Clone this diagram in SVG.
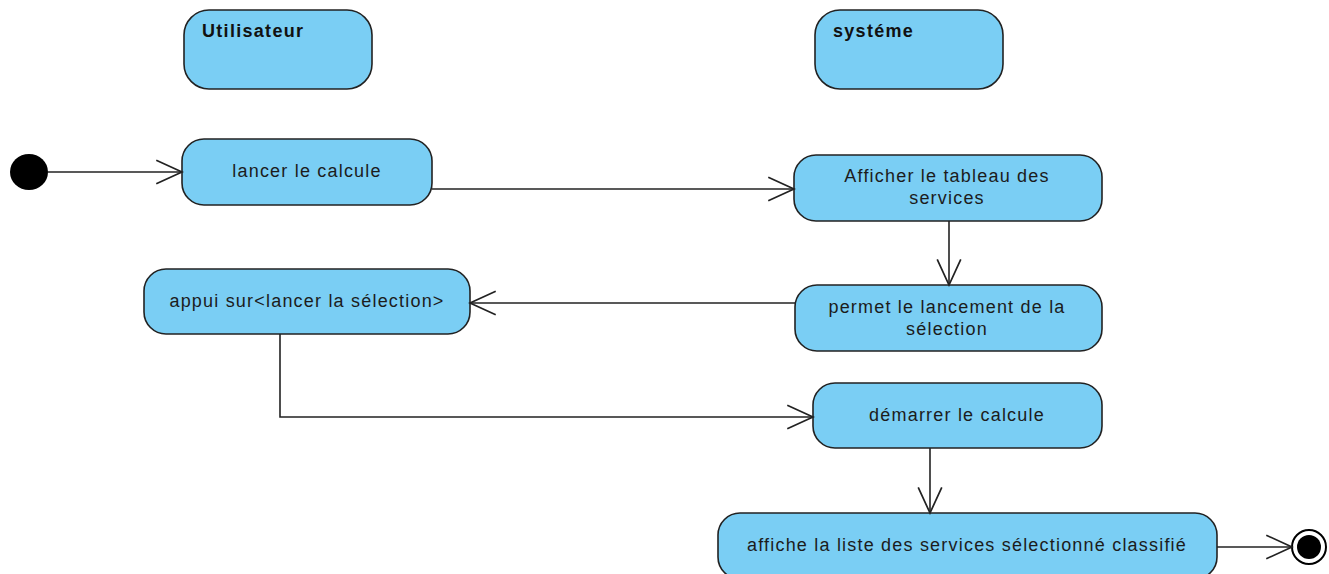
<svg xmlns="http://www.w3.org/2000/svg" width="1329" height="574" viewBox="0 0 1329 574">
  <defs>
    <style>
      .node { fill: #7acef4; stroke: #222; stroke-width: 1.6; }
      .label { font-family: "Liberation Sans", Arial, sans-serif; font-size: 18px; letter-spacing: 1.2px; fill: #1c1c1c; text-anchor: middle; }
      .title { font-family: "Liberation Sans", Arial, sans-serif; font-size: 18px; font-weight: bold; letter-spacing: 1.3px; fill: #111; }
      .edge { fill: none; stroke: #222; stroke-width: 1.6; }
    </style>
    <marker id="open-arrow" markerUnits="userSpaceOnUse" markerWidth="30" markerHeight="30" viewBox="-26 -13 28 26" refX="0" refY="0" orient="auto">
      <path d="M-24,-11 L0,0 L-24,11" fill="none" stroke="#222" stroke-width="1.6"/>
    </marker>
  </defs>

  <rect width="1329" height="574" fill="#fff"/>

  <!-- swimlane headers -->
  <g id="lane-utilisateur">
    <rect class="node" x="184" y="10" width="188" height="79" rx="25" ry="25"/>
    <text class="title" x="202" y="37">Utilisateur</text>
  </g>
  <g id="lane-systeme">
    <rect class="node" x="815" y="10" width="188" height="79" rx="25" ry="25"/>
    <text class="title" x="833" y="37">systéme</text>
  </g>

  <!-- initial and final nodes -->
  <g id="initial">
    <ellipse cx="29" cy="172" rx="19" ry="18" fill="#000"/>
  </g>
  <g id="final">
    <circle cx="1309" cy="547" r="17" fill="#fff" stroke="#000" stroke-width="2"/>
    <circle cx="1309" cy="547" r="12" fill="#000"/>
  </g>

  <!-- actions -->
  <g id="lancer-calcule">
    <rect class="node" x="182" y="139" width="250" height="66" rx="22" ry="22"/>
    <text class="label" x="307" y="177">lancer le calcule</text>
  </g>
  <g id="afficher-tableau">
    <rect class="node" x="794" y="155" width="308" height="66" rx="22" ry="22"/>
    <text class="label" x="947" y="182">Afficher le tableau des</text>
    <text class="label" x="947" y="204">services</text>
  </g>
  <g id="permet-lancement">
    <rect class="node" x="795" y="285" width="307" height="66" rx="22" ry="22"/>
    <text class="label" x="947" y="313">permet le lancement de la</text>
    <text class="label" x="947" y="335">sélection</text>
  </g>
  <g id="appui-selection">
    <rect class="node" x="144" y="269" width="326" height="65" rx="22" ry="22"/>
    <text class="label" x="307" y="307">appui sur&lt;lancer la sélection&gt;</text>
  </g>
  <g id="demarrer-calcule">
    <rect class="node" x="813" y="383" width="289" height="65" rx="22" ry="22"/>
    <text class="label" x="957" y="421">démarrer le calcule</text>
  </g>
  <g id="affiche-liste">
    <rect class="node" x="718" y="513" width="499" height="66" rx="22" ry="22"/>
    <text class="label" x="967" y="551">affiche la liste des services sélectionné classifié</text>
  </g>

  <!-- control flows -->
  <g id="connectors">
    <path class="edge" d="M48,172 L182,172" marker-end="url(#open-arrow)"/>
    <path class="edge" d="M432,189 L794,189" marker-end="url(#open-arrow)"/>
    <path class="edge" d="M949,221 L949,285" marker-end="url(#open-arrow)"/>
    <path class="edge" d="M795,303 L470,303" marker-end="url(#open-arrow)"/>
    <path class="edge" d="M280,334 L280,417 L813,417" marker-end="url(#open-arrow)"/>
    <path class="edge" d="M930,448 L930,513" marker-end="url(#open-arrow)"/>
    <path class="edge" d="M1217,547 L1292,547" marker-end="url(#open-arrow)"/>
  </g>
</svg>
